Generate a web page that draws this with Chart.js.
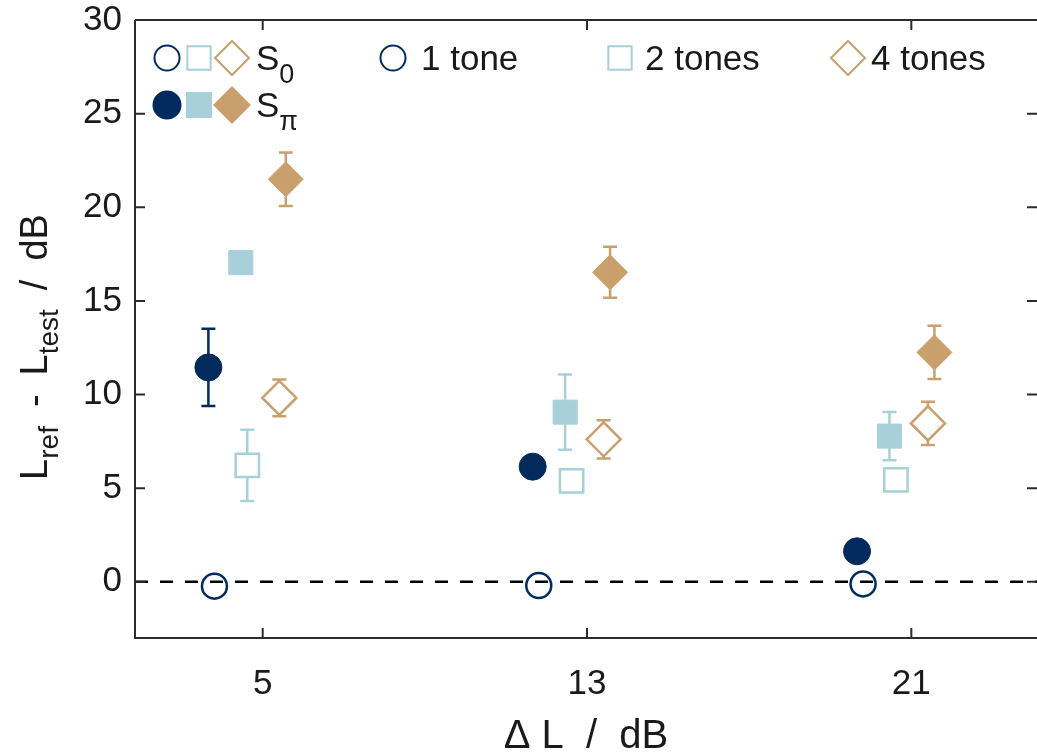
<!DOCTYPE html>
<html>
<head>
<meta charset="utf-8">
<script src="https://cdn.jsdelivr.net/npm/chart.js@4/dist/chart.umd.min.js"></script>
<style>
  body { margin: 0; background: #fff; }
  #wrap { width: 1037px; height: 754px; }
</style>
</head>
<body>
<div id="wrap"><canvas id="chart" width="1037" height="754"></canvas></div>
<script>
// level differences (x categories) and axis settings
const levels = [5, 13, 21];
const xTicks = [5, 13, 21];
const yTicks = [0, 5, 10, 15, 20, 25, 30];
const xRange = [1.85, 24.1];
const yRange = [-3, 30];

// measured values (mean and half error bar) per condition
const oneToneS0 = [-0.23, -0.2, -0.11];
const oneToneS0Err = [0.2, 0.2, 0.25];
const oneTonePi = [11.45, 6.15, 1.63];
const oneTonePiErr = [2.06, 0.3, 0.3];
const twoTonesS0 = [6.22, 5.39, 5.44];
const twoTonesS0Err = [1.9, 0.4, 0.35];
const twoTonesPi = [17.04, 9.06, 7.78];
const twoTonesPiErr = [0.35, 2.01, 1.29];
const fourTonesS0 = [9.82, 7.61, 8.46];
const fourTonesS0Err = [0.98, 1.02, 1.15];
const fourTonesPi = [21.5, 16.53, 12.25];
const fourTonesPiErr = [1.43, 1.36, 1.42];

// horizontal jitter so the groups don't overlap
const offsets = {
    oneS0: -1.19, onePi: -1.34,
    twoS0: -0.38, twoPi: -0.54,
    fourS0: 0.41, fourPi: 0.57
};

const NAVY = '#022b5d';
const LIGHT = '#a7d0db';
const TAN = '#c9a06c';
const AXIS = '#2b2b2b';
const TEXT = '#1a1a1a';
const FONT = "'Liberation Sans', Arial, Helvetica, sans-serif";

function points(values, offset) {
    return values.map((v, i) => ({ x: levels[i] + offset, y: v }));
}

function markerSet(label, values, errs, offset, color, style, radius, filled) {
    return {
        label: label,
        data: points(values, offset),
        errors: errs,
        errColor: color,
        pointStyle: style,
        pointRadius: radius,
        pointHoverRadius: radius,
        pointBackgroundColor: filled ? color : '#ffffff',
        pointBorderColor: color,
        pointBorderWidth: filled ? 1 : 2.5,
        showLine: false,
        order: 1
    };
}

const datasets = [
    markerSet('1 tone S0', oneToneS0, oneToneS0Err, offsets.oneS0, NAVY, 'circle', 12.5, false),
    markerSet('1 tone Spi', oneTonePi, oneTonePiErr, offsets.onePi, NAVY, 'circle', 13.5, true),
    markerSet('2 tones S0', twoTonesS0, twoTonesS0Err, offsets.twoS0, LIGHT, 'rect', 16.5, false),
    markerSet('2 tones Spi', twoTonesPi, twoTonesPiErr, offsets.twoPi, LIGHT, 'rect', 17, true),
    markerSet('4 tones S0', fourTonesS0, fourTonesS0Err, offsets.fourS0, TAN, 'rectRot', 17, false),
    markerSet('4 tones Spi', fourTonesPi, fourTonesPiErr, offsets.fourPi, TAN, 'rectRot', 17.5, true),
    {
        label: 'zero',
        type: 'line',
        data: xRange.map(v => ({ x: v, y: 0 })),
        borderColor: '#000000',
        borderWidth: 2.5,
        borderDash: [13, 12],
        pointRadius: 0,
        order: 0
    }
];

// error bars under the markers
const errorBars = {
    id: 'errorBars',
    beforeDatasetsDraw(chart) {
        const { ctx, scales: { x, y } } = chart;
        chart.data.datasets.forEach(ds => {
            if (!ds.errors) return;
            ctx.save();
            ctx.strokeStyle = ds.errColor;
            ctx.lineWidth = 2.5;
            ds.data.forEach((p, j) => {
                const e = ds.errors[j];
                const px = x.getPixelForValue(p.x);
                const top = y.getPixelForValue(p.y + e);
                const bot = y.getPixelForValue(p.y - e);
                ctx.beginPath();
                ctx.moveTo(px, top); ctx.lineTo(px, bot);
                ctx.moveTo(px - 7, top); ctx.lineTo(px + 7, top);
                ctx.moveTo(px - 7, bot); ctx.lineTo(px + 7, bot);
                ctx.stroke();
            });
            ctx.restore();
        });
    }
};

// draws text with subscripts, parts = [[text, isSub], ...]
function richText(ctx, parts, x, y, size, subSize, subShift, align) {
    let w = 0;
    parts.forEach(([t, sub]) => {
        ctx.font = (sub ? subSize : size) + 'px ' + FONT;
        w += ctx.measureText(t).width;
    });
    let cx = align === 'center' ? x - w / 2 : x;
    parts.forEach(([t, sub]) => {
        ctx.font = (sub ? subSize : size) + 'px ' + FONT;
        ctx.fillText(t, cx, sub ? y + subShift : y);
        cx += ctx.measureText(t).width;
    });
}

// box, inward ticks, axis titles and the legend
const decorations = {
    id: 'decorations',
    afterDraw(chart) {
        const { ctx, chartArea: a, scales: { x, y } } = chart;
        const tick = 10;
        ctx.save();
        ctx.strokeStyle = AXIS;
        ctx.lineWidth = 2;
        ctx.beginPath();
        ctx.moveTo(a.left, a.top); ctx.lineTo(a.right, a.top);
        ctx.moveTo(a.left, a.top); ctx.lineTo(a.left, a.bottom);
        ctx.lineTo(a.right, a.bottom);
        xTicks.forEach(v => {
            const px = x.getPixelForValue(v);
            ctx.moveTo(px, a.bottom); ctx.lineTo(px, a.bottom - tick);
            ctx.moveTo(px, a.top); ctx.lineTo(px, a.top + tick);
        });
        yTicks.forEach(v => {
            const py = y.getPixelForValue(v);
            ctx.moveTo(a.left, py); ctx.lineTo(a.left + tick, py);
            ctx.moveTo(a.right, py); ctx.lineTo(a.right - tick, py);
        });
        ctx.stroke();

        ctx.fillStyle = TEXT;
        ctx.textBaseline = 'alphabetic';
        ctx.textAlign = 'left';
        // x title
        richText(ctx, [['\u0394 L  /  dB', false]], (a.left + a.right) / 2, 748, 40, 28, 0, 'center');
        // y title, rotated
        ctx.save();
        ctx.translate(47, 347);
        ctx.rotate(-Math.PI / 2);
        richText(ctx, [['L', false], ['ref', true], ['\u2002-\u2002L', false], ['test', true], ['\u2002/\u2002dB', false]],
            0, 0, 38, 28, 11, 'center');
        ctx.restore();

        // legend
        const row1 = 58, row2 = 105;
        const mk = (style, r, color, filled, px, py) => {
            ctx.fillStyle = filled ? color : '#ffffff';
            ctx.strokeStyle = color;
            Chart.helpers.drawPoint(ctx, {
                pointStyle: style, radius: r, rotation: 0,
                borderWidth: filled ? 1 : 2.5
            }, px, py);
        };
        mk('circle', 12.5, NAVY, false, 167, row1);
        mk('rect', 16.5, LIGHT, false, 199, row1);
        mk('rectRot', 17, TAN, false, 232, row1);
        mk('circle', 13.5, NAVY, true, 167, row2);
        mk('rect', 17, LIGHT, true, 199, row2);
        mk('rectRot', 17.5, TAN, true, 232, row2);
        mk('circle', 12.5, NAVY, false, 393, row1);
        mk('rect', 16.5, LIGHT, false, 620, row1);
        mk('rectRot', 17, TAN, false, 848, row1);

        ctx.fillStyle = TEXT;
        richText(ctx, [['S', false], ['0', true]], 256, row1 + 12, 35, 27, 13, 'left');
        richText(ctx, [['S', false], ['\u03c0', true]], 256, row2 + 12, 35, 27, 13, 'left');
        richText(ctx, [['1 tone', false]], 421, row1 + 12, 35, 27, 0, 'left');
        richText(ctx, [['2 tones', false]], 645, row1 + 12, 35, 27, 0, 'left');
        richText(ctx, [['4 tones', false]], 871, row1 + 12, 35, 27, 0, 'left');
        ctx.restore();
    }
};

new Chart(document.getElementById('chart'), {
    type: 'scatter',
    data: { datasets: datasets },
    options: {
        responsive: false,
        animation: false,
        layout: { autoPadding: false, padding: { top: 20, right: 0, left: 0, bottom: 0 } },
        plugins: {
            legend: { display: false },
            tooltip: { enabled: false }
        },
        scales: {
            x: {
                type: 'linear',
                min: xRange[0],
                max: xRange[1],
                afterBuildTicks: s => { s.ticks = xTicks.map(v => ({ value: v })); },
                afterFit: s => { s.height = 116; s.paddingLeft = 0; s.paddingRight = 0; },
                grid: { display: false, drawTicks: false },
                border: { display: false },
                ticks: {
                    color: TEXT,
                    padding: 25,
                    font: { family: FONT, size: 35 }
                }
            },
            y: {
                type: 'linear',
                min: yRange[0],
                max: yRange[1],
                afterBuildTicks: s => { s.ticks = yTicks.map(v => ({ value: v })); },
                afterFit: s => { s.width = 135; s.paddingTop = 0; s.paddingBottom = 0; },
                grid: { display: false, drawTicks: false },
                border: { display: false },
                ticks: {
                    color: TEXT,
                    padding: 13,
                    font: { family: FONT, size: 35 }
                }
            }
        }
    },
    plugins: [errorBars, decorations]
});
</script>
</body>
</html>
